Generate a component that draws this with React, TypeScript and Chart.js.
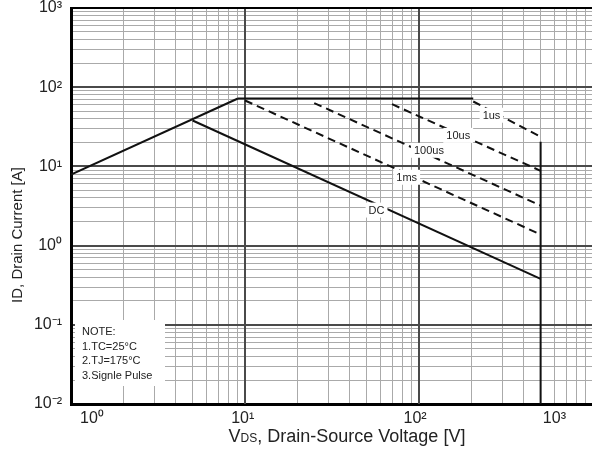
import { useEffect, useRef } from 'react';
import { Chart, registerables } from 'chart.js';

Chart.register(...registerables);

// ---- Data: VDS [V] and ID [A] ----
const rdsLimitV = [1, 9.1];
const rdsLimitI = [7.9, 72];
const currentLimitV = [9.1, 205];
const currentLimitI = [72, 72];
const dcV = [5, 500];
const dcI = [38, 0.38];
const us1V = [205, 500];
const us1I = [66, 23.7];
const us10V = [70, 500];
const us10I = [61, 8.8];
const us100V = [25, 500];
const us100I = [63, 3.2];
const ms1V = [10, 500];
const ms1I = [68, 1.38];
const vdsMaxV = [500, 500];
const vdsMaxI = [20.5, 0.01];

// curve labels, placed at data coordinates
const curveLabels = ['1us', '10us', '100us', '1ms', 'DC'];
const curveLabelV = [261, 168, 114, 85, 57];
const curveLabelI = [44.9, 25, 16.2, 7.4, 2.85];

// axes
const xMin = 1;
const xMax = 1000;
const yMin = 0.01;
const yMax = 1000;
const gridMantissas = [1, 2, 3, 4, 5, 6, 7, 8, 9];
const yTickValues = [0.01, 0.1, 1, 10, 100, 1000];
const yTickLabels = ['10⁻²', '10⁻¹', '10⁰', '10¹', '10²', '10³'];
// positions at which the datasheet prints its x decade labels
const xTickLabelValues = [1.32, 9.7, 95, 600];
const xTickLabels = ['10⁰', '10¹', '10²', '10³'];

const noteLines = ['NOTE:', '1.TC=25°C', '2.TJ=175°C', '3.Signle Pulse'];
const yTitle = 'ID, Drain Current [A]';
const xTitleParts = ['V', 'DS', ', Drain-Source Voltage [V]'];

const FONT = '"Liberation Sans", Arial, Helvetica, sans-serif';
const MAJOR_GRID = '#4a4a4a';
const MINOR_GRID = '#aaaaaa';

const isDecade = (v: number) => {
  const l = Math.log10(v);
  return Math.abs(l - Math.round(l)) < 1e-6;
};

const logGridTicks = (min: number, max: number) => {
  const out: { value: number }[] = [];
  for (let e = Math.floor(Math.log10(min)); e <= Math.ceil(Math.log10(max)); e++) {
    for (const m of gridMantissas) {
      const v = m * Math.pow(10, e);
      if (v >= min * 0.999999 && v <= max * 1.000001) out.push({ value: v });
    }
  }
  return out;
};

const mk = (label: string, xs: number[], ys: number[], dashed: boolean) => ({
  label,
  data: xs.map((x, i) => ({ x, y: ys[i] })),
  borderColor: '#111',
  borderWidth: 2,
  borderDash: dashed ? [8, 5] : [],
  pointRadius: 0,
  fill: false,
  tension: 0,
});

const overlayPlugin = {
  id: 'soaOverlay',
  beforeDatasetsDraw(chart: any) {
    // re-stroke the vertical decade lines so the horizontal minor grid does not cut them
    const { ctx, chartArea, scales } = chart;
    ctx.save();
    ctx.strokeStyle = MAJOR_GRID;
    ctx.lineWidth = 2;
    scales.x.ticks.forEach((t: any) => {
      if (!isDecade(t.value)) return;
      const px = Math.round(scales.x.getPixelForValue(t.value));
      if (px <= chartArea.left + 2 || px >= chartArea.right - 1) return;
      ctx.beginPath();
      ctx.moveTo(px, chartArea.top);
      ctx.lineTo(px, chartArea.bottom);
      ctx.stroke();
    });
    ctx.restore();
  },
  afterDatasetsDraw(chart: any) {
    const { ctx, chartArea, scales } = chart;
    ctx.save();
    // top frame line
    ctx.strokeStyle = '#000';
    ctx.lineWidth = 2;
    ctx.beginPath();
    ctx.moveTo(chartArea.left, chartArea.top);
    ctx.lineTo(chartArea.right, chartArea.top);
    ctx.stroke();

    // curve labels with white background
    ctx.font = `11px ${FONT}`;
    ctx.textAlign = 'center';
    ctx.textBaseline = 'middle';
    curveLabels.forEach((t, i) => {
      const px = scales.x.getPixelForValue(curveLabelV[i]);
      const py = scales.y.getPixelForValue(curveLabelI[i]);
      const w = ctx.measureText(t).width + 6;
      ctx.fillStyle = '#fff';
      ctx.fillRect(px - w / 2, py - 7, w, 15);
      ctx.fillStyle = '#222';
      ctx.fillText(t, px, py + 1);
    });

    // note box
    const bx = chartArea.left + 4;
    const by = chartArea.bottom - 84;
    ctx.fillStyle = '#fff';
    ctx.fillRect(bx, by, 90, 66);
    ctx.fillStyle = '#222';
    ctx.textAlign = 'left';
    noteLines.forEach((t, i) => {
      ctx.fillText(t, bx + 7, by + 12 + i * 14.5);
    });
    ctx.restore();
  },
  afterDraw(chart: any) {
    const { ctx, chartArea } = chart;
    ctx.save();
    ctx.fillStyle = '#222';
    // y title
    ctx.font = `15px ${FONT}`;
    ctx.textAlign = 'center';
    ctx.textBaseline = 'middle';
    ctx.translate(18, (chartArea.top + chartArea.bottom) / 2 + 29);
    ctx.rotate(-Math.PI / 2);
    ctx.fillText(yTitle, 0, 0);
    ctx.restore();

    // x title with small "DS"
    ctx.save();
    ctx.fillStyle = '#222';
    ctx.textBaseline = 'alphabetic';
    ctx.textAlign = 'left';
    const sizes = [18, 12, 18];
    let total = 0;
    const widths = xTitleParts.map((p, i) => {
      ctx.font = `${sizes[i]}px ${FONT}`;
      const w = ctx.measureText(p).width;
      total += w;
      return w;
    });
    let x = 347 - total / 2;
    xTitleParts.forEach((p, i) => {
      ctx.font = `${sizes[i]}px ${FONT}`;
      ctx.fillText(p, x, 442);
      x += widths[i];
    });
    ctx.restore();
  },
};

export default function App() {
  const ref = useRef<HTMLCanvasElement>(null);

  useEffect(() => {
    if (!ref.current) return;
    const gridColor = (c: any) => (c.tick && isDecade(c.tick.value) ? MAJOR_GRID : MINOR_GRID);
    const gridWidth = (c: any) => (c.tick && isDecade(c.tick.value) ? 2 : 1);
    const chart = new Chart(ref.current, {
      type: 'line',
      data: {
        datasets: [
          mk('RDS(on) limit', rdsLimitV, rdsLimitI, false),
          mk('Current limit', currentLimitV, currentLimitI, false),
          mk('DC', dcV, dcI, false),
          mk('1us', us1V, us1I, true),
          mk('10us', us10V, us10I, true),
          mk('100us', us100V, us100I, true),
          mk('1ms', ms1V, ms1I, true),
          mk('VDS max', vdsMaxV, vdsMaxI, false),
        ] as any,
      },
      options: {
        animation: false,
        responsive: false,
        devicePixelRatio: 1,
        layout: { padding: { top: 0, right: 7, bottom: 0, left: 0 } },
        plugins: { legend: { display: false }, tooltip: { enabled: false } },
        scales: {
          x: {
            type: 'logarithmic',
            position: 'bottom',
            weight: 0,
            min: xMin,
            max: xMax,
            afterBuildTicks: (s: any) => {
              s.ticks = logGridTicks(xMin, xMax);
            },
            afterFit: (s: any) => {
              s.height = 0;
            },
            ticks: { display: false, autoSkip: false },
            grid: { drawTicks: false, color: gridColor, lineWidth: gridWidth },
            border: { color: '#000', width: 3 },
          },
          xl: {
            type: 'logarithmic',
            position: 'bottom',
            weight: 1,
            min: xMin,
            max: xMax,
            afterBuildTicks: (s: any) => {
              s.ticks = xTickLabelValues.map((v) => ({ value: v }));
            },
            afterFit: (s: any) => {
              s.height = 47;
            },
            ticks: {
              autoSkip: false,
              maxRotation: 0,
              padding: 7,
              color: '#222',
              font: { family: FONT, size: 16, lineHeight: 1 },
              callback: (_v: any, i: number) => xTickLabels[i],
            },
            grid: { display: false, drawTicks: false },
            border: { display: false },
          },
          y: {
            type: 'logarithmic',
            position: 'left',
            min: yMin,
            max: yMax,
            afterBuildTicks: (s: any) => {
              s.ticks = logGridTicks(yMin, yMax);
            },
            afterFit: (s: any) => {
              s.width = 71;
              s.paddingTop = 8;
              s.paddingBottom = 8;
            },
            ticks: {
              autoSkip: false,
              padding: 9,
              color: '#222',
              font: { family: FONT, size: 16, lineHeight: 1 },
              callback: (v: any) => {
                const idx = yTickValues.findIndex((t) => Math.abs(t - Number(v)) / t < 1e-6);
                return idx >= 0 ? yTickLabels[idx] : '';
              },
            },
            grid: { drawTicks: false, color: gridColor, lineWidth: gridWidth },
            border: { color: '#000', width: 3 },
          },
        },
      } as any,
      plugins: [overlayPlugin],
    });
    return () => chart.destroy();
  }, []);

  return (
    <div
      style={{
        position: 'fixed',
        left: 0,
        top: 0,
        width: 592,
        height: 451,
        overflow: 'hidden',
        background: '#fff',
      }}
    >
      <canvas ref={ref} width={600} height={451} style={{ display: 'block', width: 600, height: 451 }} />
    </div>
  );
}
